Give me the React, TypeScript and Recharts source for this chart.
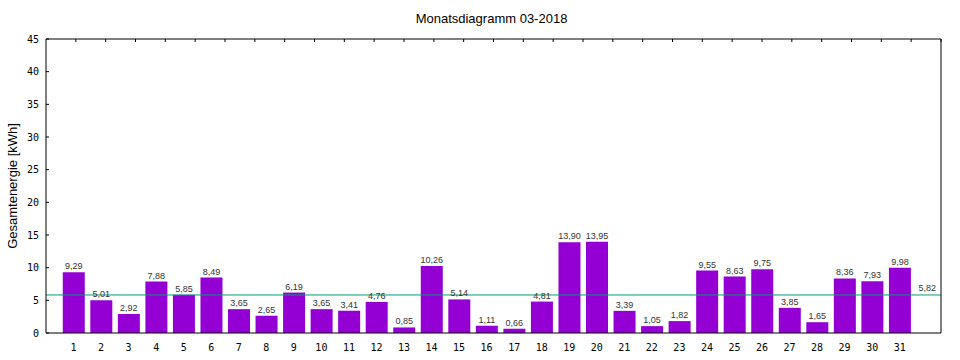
import {
  BarChart,
  Bar,
  XAxis,
  YAxis,
  LabelList,
  ReferenceLine,
  ReferenceDot,
} from "recharts";

const days = [
  1, 2, 3, 4, 5, 6, 7, 8, 9, 10, 11, 12, 13, 14, 15, 16, 17, 18, 19, 20, 21,
  22, 23, 24, 25, 26, 27, 28, 29, 30, 31,
];
const energy = [
  9.29, 5.01, 2.92, 7.88, 5.85, 8.49, 3.65, 2.65, 6.19, 3.65, 3.41, 4.76, 0.85,
  10.26, 5.14, 1.11, 0.66, 4.81, 13.9, 13.95, 3.39, 1.05, 1.82, 9.55, 8.63,
  9.75, 3.85, 1.65, 8.36, 7.93, 9.98,
];
const yTicks = [0, 5, 10, 15, 20, 25, 30, 35, 40, 45];
const mean = 5.82;
const meanSlot = 32;

const data = days.map((d, i) => ({ day: d, value: energy[i] }));

const fmt = (v: number) => v.toFixed(2).replace(".", ",");

const tickFont = { fontFamily: "'DejaVu Sans Mono', monospace", fontSize: 10 };
const labelFont = "'Liberation Sans', Arial, sans-serif";

const LeftTick = (p: any) => (
  <g>
    <line x1={p.x + 7} x2={p.x + 10} y1={p.y} y2={p.y} stroke="#000" />
    <text
      x={p.x}
      y={p.y}
      dy="0.35em"
      textAnchor="end"
      fill="#000"
      style={tickFont}
    >
      {p.payload.value}
    </text>
  </g>
);

const RightTick = (p: any) => (
  <line x1={p.x - 3} x2={p.x} y1={p.y} y2={p.y} stroke="#000" />
);

const TopTick = (p: any) => (
  <line x1={p.x} x2={p.x} y1={p.y} y2={p.y + 3} stroke="#000" />
);

const BottomTick = (p: any) => (
  <text
    x={p.x}
    y={p.y}
    dy="0.71em"
    textAnchor="middle"
    fill="#000"
    style={tickFont}
  >
    {p.payload.value}
  </text>
);

export default function App() {
  return (
    <div style={{ position: "absolute", left: 0, top: 0, background: "#fff" }}>
      <BarChart
        width={960}
        height={360}
        data={data}
        margin={{ top: 0, right: 0, bottom: 0, left: 0 }}
      >
        <XAxis
          dataKey="day"
          type="number"
          domain={[0, 32.5]}
          ticks={days}
          interval={0}
          height={27}
          tickSize={0}
          tickMargin={11}
          tick={<BottomTick />}
          axisLine={{ stroke: "#000" }}
        />
        <XAxis
          xAxisId="top"
          orientation="top"
          type="number"
          domain={[0, 32.5]}
          ticks={days}
          interval={0}
          height={39}
          tickSize={0}
          tickMargin={0}
          tick={<TopTick />}
          axisLine={{ stroke: "#000" }}
          label={{
            content: (props: any) => {
              const vb = props.viewBox;
              return (
                <text
                  x={vb.x + vb.width / 2 - 2}
                  y={23}
                  textAnchor="middle"
                  fill="#000"
                  style={{ fontFamily: labelFont, fontSize: 13 }}
                >
                  Monatsdiagramm 03-2018
                </text>
              );
            },
          }}
        />
        <YAxis
          domain={[0, 45]}
          ticks={yTicks}
          width={46}
          tickSize={0}
          tickMargin={7}
          tick={<LeftTick />}
          axisLine={{ stroke: "#000" }}
          label={{
            content: (props: any) => {
              const vb = props.viewBox;
              const cy = vb.y + vb.height / 2;
              return (
                <text
                  x={17}
                  y={cy}
                  transform={`rotate(-90, 17, ${cy})`}
                  textAnchor="middle"
                  fill="#000"
                  style={{ fontFamily: labelFont, fontSize: 13 }}
                >
                  Gesamtenergie [kWh]
                </text>
              );
            },
          }}
        />
        <YAxis
          yAxisId="right"
          orientation="right"
          domain={[0, 45]}
          ticks={yTicks}
          width={19}
          tickSize={0}
          tickMargin={0}
          tick={<RightTick />}
          axisLine={{ stroke: "#000" }}
        />
        <Bar
          dataKey="value"
          fill="#9400d3"
          barSize={22}
          isAnimationActive={false}
        >
          <LabelList
            dataKey="value"
            position="top"
            offset={3}
            formatter={(v: any) => fmt(Number(v))}
            style={{ fontFamily: labelFont, fontSize: 9, fill: "#333" }}
          />
        </Bar>
        <ReferenceLine y={mean} stroke="#009e73" strokeWidth={1} />
        <ReferenceDot
          x={meanSlot}
          y={mean}
          r={0}
          fill="none"
          stroke="none"
          label={{
            value: fmt(mean),
            position: "top",
            offset: 4,
            style: { fontFamily: labelFont, fontSize: 9, fill: "#333" },
          }}
        />
      </BarChart>
    </div>
  );
}
